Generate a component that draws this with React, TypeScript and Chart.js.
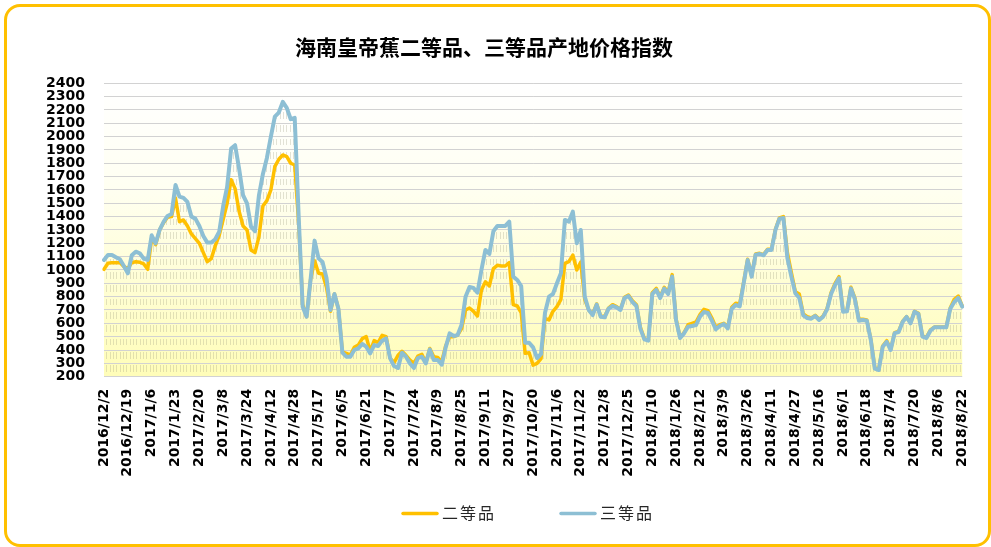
import React, { useEffect, useRef } from 'react';
import { Chart, registerables } from 'chart.js';

Chart.register(...registerables);

// ---------- data ----------
const chartTitle = '海南皇帝蕉二等品、三等品产地价格指数';
const seriesNames = ['二等品', '三等品'];
const seriesColors = ['#FFC000', '#8DBFD4'];

const tickLabels = [
  '2016/12/2', '2016/12/19', '2017/1/6', '2017/1/23', '2017/2/20', '2017/3/8', '2017/3/24',
  '2017/4/12', '2017/4/28', '2017/5/17', '2017/6/5', '2017/6/21', '2017/7/7', '2017/7/24',
  '2017/8/9', '2017/8/25', '2017/9/11', '2017/9/27', '2017/10/20', '2017/11/6', '2017/11/22',
  '2017/12/8', '2017/12/25', '2018/1/10', '2018/1/26', '2018/2/12', '2018/3/9', '2018/3/26',
  '2018/4/11', '2018/4/27', '2018/5/16', '2018/6/1', '2018/6/18', '2018/7/4', '2018/7/20',
  '2018/8/6', '2018/8/22',
];
const pointsPerLabel = 6;

// 二等品
const grade2 = [
  1005, 1050, 1055, 1055, 1055, 1025, 1010, 1055, 1062, 1058, 1045, 1005,
  1240, 1190, 1300, 1355, 1395, 1400, 1537, 1362, 1375, 1330, 1270, 1235,
  1200, 1130, 1062, 1085, 1180, 1260, 1380, 1500, 1677, 1610, 1440, 1330,
  1300, 1150, 1130, 1250, 1480, 1520, 1600, 1775, 1830, 1862, 1850, 1800,
  1787, 1350, 740, 650, 930, 1070, 975, 970, 870, 690, 820, 710,
  385, 375, 362, 420, 437, 485, 500, 390, 470, 455, 510, 500,
  340, 305, 360, 390, 360, 325, 300, 355, 368, 305, 412, 350,
  345, 312, 430, 500, 500, 512, 560, 700, 715, 690, 655, 850,
  912, 880, 1010, 1035, 1030, 1030, 1055, 740, 730, 680, 375, 380,
  287, 300, 335, 637, 625, 690, 725, 780, 1050, 1062, 1112, 1000,
  1060, 780, 700, 670, 745, 655, 650, 715, 740, 725, 705, 795,
  812, 770, 740, 570, 485, 475, 830, 862, 800, 870, 830, 965,
  630, 495, 530, 590, 600, 610, 665, 705, 695, 640, 570, 590,
  600, 570, 720, 750, 745, 910, 1080, 960, 1120, 1125, 1115, 1155,
  1155, 1305, 1390, 1400, 1130, 980, 837, 820, 670, 650, 640, 660,
  630, 655, 710, 830, 900, 950, 695, 695, 870, 790, 630, 630,
  625, 480, 265, 255, 430, 470, 405, 530, 540, 615, 650, 605,
  690, 675, 505, 495, 550, 572, 572, 572, 572, 715, 780, 805,
  730,
];

// 三等品
const grade3 = [
  1075, 1112, 1112, 1095, 1080, 1030, 975, 1110, 1137, 1125, 1085, 1075,
  1260, 1200, 1300, 1360, 1405, 1420, 1637, 1550, 1540, 1510, 1400, 1385,
  1330, 1255, 1205, 1205, 1230, 1287, 1480, 1625, 1910, 1935, 1760, 1560,
  1500, 1325, 1290, 1560, 1720, 1840, 2000, 2150, 2180, 2260, 2215, 2130,
  2140, 1400, 725, 650, 930, 1220, 1087, 1060, 940, 700, 820, 710,
  380, 350, 350, 400, 412, 445, 425, 375, 437, 430, 470, 487,
  340, 280, 265, 380, 350, 300, 265, 340, 350, 300, 405, 325,
  325, 290, 420, 525, 505, 512, 590, 800, 872, 865, 830, 1000,
  1150, 1120, 1290, 1330, 1330, 1330, 1362, 950, 925, 880, 455, 455,
  420, 340, 370, 680, 800, 820, 900, 975, 1375, 1362, 1437, 1200,
  1300, 800, 700, 662, 740, 650, 645, 710, 730, 720, 700, 790,
  805, 760, 730, 560, 480, 470, 820, 850, 790, 860, 820, 950,
  620, 490, 525, 575, 580, 587, 650, 685, 678, 620, 555, 580,
  595, 562, 710, 737, 727, 900, 1075, 950, 1115, 1120, 1110, 1150,
  1150, 1300, 1385, 1390, 1090, 950, 825, 790, 660, 640, 635, 655,
  625, 650, 705, 820, 887, 937, 687, 690, 862, 780, 620, 625,
  620, 475, 260, 250, 425, 462, 400, 527, 535, 610, 648, 600,
  687, 670, 500, 490, 545, 570, 570, 570, 570, 710, 760, 790,
  725,
];

const yMin = 200;
const yMax = 2400;
const yStep = 100;

// ---------- helpers ----------
function makeStripePattern(ctx: CanvasRenderingContext2D): CanvasPattern | string {
  const c = document.createElement('canvas');
  c.width = 10;
  c.height = 40;
  const g = c.getContext('2d');
  if (!g) return 'rgba(150,150,130,0.25)';
  g.fillStyle = 'rgba(150,150,125,0.28)';
  const period = 40 / 3;
  for (let y = 0; y < 40; y++) {
    const d = (((y + 0.5 - 3.33) % period) + period) % period;
    if (d >= 2 && d <= 8.8) {
      for (const x of [0, 3, 6]) g.fillRect(x, y, 1, 1);
    }
  }
  return ctx.createPattern(c, 'repeat') || 'rgba(150,150,130,0.25)';
}

const plotBackground = {
  id: 'plotBackground',
  beforeDraw(chart: any) {
    const { ctx, chartArea: a } = chart;
    if (!a) return;
    const grad = ctx.createLinearGradient(0, a.top, 0, a.bottom);
    grad.addColorStop(0, '#FFFFFF');
    grad.addColorStop(0.35, '#FFFFF2');
    grad.addColorStop(1, '#FFFDB8');
    ctx.save();
    ctx.fillStyle = grad;
    ctx.fillRect(a.left, a.top, a.right - a.left, a.bottom - a.top);
    ctx.restore();
  },
};

const bottomLegend = {
  id: 'bottomLegend',
  afterDraw(chart: any) {
    const ctx: CanvasRenderingContext2D = chart.ctx;
    const y = 512.5;
    const starts = [402, 560];
    ctx.save();
    seriesNames.forEach((name, i) => {
      const x = starts[i];
      ctx.strokeStyle = seriesColors[i];
      ctx.lineWidth = 3.5;
      ctx.lineCap = 'round';
      ctx.beginPath();
      ctx.moveTo(x + 1, y + 1);
      ctx.lineTo(x + 35, y + 1);
      ctx.stroke();
      ctx.fillStyle = '#262626';
      ctx.font = '16px "Noto Sans CJK SC"';
      ctx.textBaseline = 'middle';
      ctx.textAlign = 'left';
      try {
        (ctx as any).letterSpacing = '2px';
      } catch (e) {
        /* ignore */
      }
      ctx.fillText(name, x + 40, y);
    });
    ctx.restore();
  },
};

export default function App() {
  const canvasRef = useRef<HTMLCanvasElement | null>(null);

  useEffect(() => {
    const canvas = canvasRef.current;
    if (!canvas) return;
    const ctx = canvas.getContext('2d');
    if (!ctx) return;
    const pattern = makeStripePattern(ctx);

    const categories = grade2.map((_, i) =>
      i % pointsPerLabel === 0 && tickLabels[i / pointsPerLabel] ? tickLabels[i / pointsPerLabel] : ''
    );

    const tickFont = { family: '"DejaVu Sans", sans-serif', size: 14, weight: 'bold' as const };

    const chart = new Chart(ctx, {
      type: 'line',
      data: {
        labels: categories,
        datasets: [
          {
            label: seriesNames[0],
            data: grade2,
            borderColor: seriesColors[0],
            backgroundColor: seriesColors[0],
            borderWidth: 3.5,
            fill: false,
            order: 2,
          },
          {
            label: seriesNames[1],
            data: grade3,
            borderColor: seriesColors[1],
            backgroundColor: pattern as any,
            borderWidth: 4,
            fill: 'start',
            order: 1,
          },
        ],
      },
      options: {
        responsive: false,
        animation: false,
        events: [],
        layout: { padding: { left: 0, right: 23, top: 0, bottom: 60 } },
        elements: {
          point: { radius: 0, hoverRadius: 0 },
          line: { tension: 0, borderJoinStyle: 'round', borderCapStyle: 'round' },
        },
        plugins: {
          legend: { display: false },
          tooltip: { enabled: false },
          filler: { drawTime: 'beforeDatasetsDraw' },
          title: {
            display: true,
            text: chartTitle,
            color: '#000',
            font: { family: '"Noto Sans CJK SC", sans-serif', size: 21, weight: 'bold' },
            padding: { top: 34, bottom: 24 },
          },
        },
        scales: {
          x: {
            type: 'category',
            offset: false,
            grid: { display: false, drawTicks: false },
            border: { display: false },
            ticks: {
              autoSkip: false,
              maxRotation: 90,
              minRotation: 90,
              padding: 12,
              color: '#000',
              font: tickFont,
            },
            afterFit: (scale: any) => {
              scale.height = 110.3;
            },
          },
          y: {
            min: yMin,
            max: yMax,
            grid: { color: '#D2D2D2', lineWidth: 1, drawTicks: false },
            border: { display: false },
            ticks: {
              stepSize: yStep,
              autoSkip: false,
              padding: 19,
              color: '#000',
              font: tickFont,
              callback: (value: any) => String(value),
            },
            afterFit: (scale: any) => {
              scale.width = 104;
            },
          },
        },
      },
      plugins: [plotBackground, bottomLegend],
    });

    return () => {
      chart.destroy();
    };
  }, []);

  return (
    <div
      style={{
        position: 'fixed',
        left: 0,
        top: 0,
        width: 991,
        height: 547,
        background: '#FFFFFF',
        overflow: 'hidden',
      }}
    >
      <div
        style={{
          position: 'absolute',
          left: 4,
          top: 4,
          width: 987,
          height: 543,
          border: '3px solid #FFC000',
          borderRadius: 16,
          boxSizing: 'border-box',
          background: '#FFFFFF',
        }}
      />
      <canvas
        ref={canvasRef}
        width={991}
        height={547}
        style={{ position: 'absolute', left: 0, top: 0, width: 991, height: 547 }}
      />
    </div>
  );
}
